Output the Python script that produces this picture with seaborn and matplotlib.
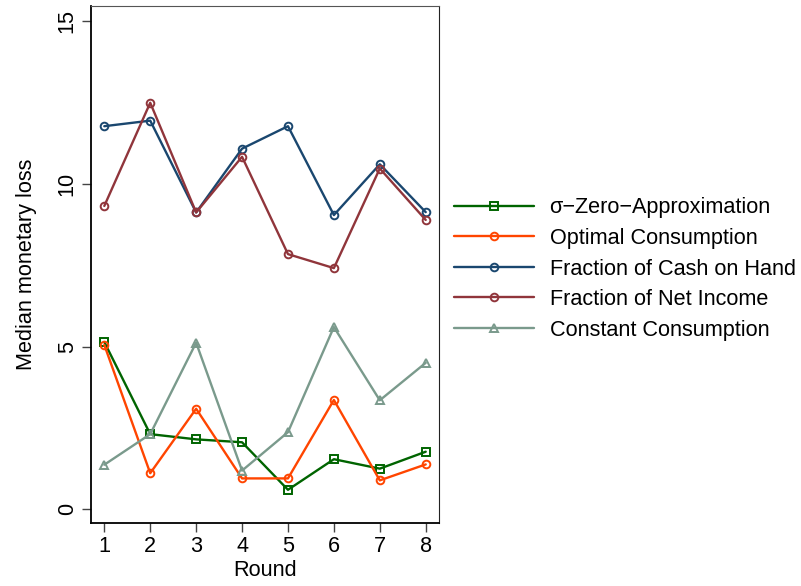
import pandas as pd
import matplotlib
matplotlib.use("Agg")
import matplotlib.pyplot as plt
import seaborn as sns

rounds = [1, 2, 3, 4, 5, 6, 7, 8]
sigma_zero = [5.14, 2.31, 2.15, 2.06, 0.60, 1.54, 1.25, 1.77]
optimal = [5.05, 1.11, 3.09, 0.95, 0.95, 3.36, 0.89, 1.38]
cash_on_hand = [11.77, 11.94, 9.12, 11.08, 11.77, 9.04, 10.60, 9.13]
net_income = [9.32, 12.49, 9.12, 10.83, 7.84, 7.41, 10.47, 8.89]
constant = [1.37, 2.31, 5.12, 1.19, 2.37, 5.60, 3.35, 4.50]

labels = ["\u03c3\u2212Zero\u2212Approximation", "Optimal Consumption",
          "Fraction of Cash on Hand", "Fraction of Net Income",
          "Constant Consumption"]
series = [sigma_zero, optimal, cash_on_hand, net_income, constant]
colors = ["#006400", "#ff4500", "#1a476f", "#90353b", "#7a9a8c"]
markers = ["s", "o", "o", "o", "^"]

sns.set_style("white")
plt.rcParams["font.family"] = ["Liberation Sans", "DejaVu Sans"]
plt.rcParams["text.color"] = "black"
plt.rcParams["axes.labelcolor"] = "black"
plt.rcParams["xtick.color"] = "black"
plt.rcParams["ytick.color"] = "black"

fs = 15.6

fig = plt.figure(figsize=(8.01, 5.86), dpi=100)
ax = fig.add_axes([0.1136, 0.1075, 0.4345, 0.8827])

for lab, vals, col, mk in zip(labels, series, colors, markers):
    df = pd.DataFrame({"Round": rounds, "loss": vals})
    sns.lineplot(data=df, x="Round", y="loss", ax=ax, color=col, marker=mk,
                 markersize=5.5, markerfacecolor="none", markeredgecolor=col,
                 markeredgewidth=1.4, linewidth=1.7, label=lab)

ax.set_xlim(0.71, 8.29)
ax.set_ylim(-0.42, 15.47)
ax.set_xticks(rounds)
ax.set_yticks([0, 5, 10, 15])
ax.tick_params(axis="both", labelsize=fs, length=6.5, width=1,
               direction="out", bottom=True, left=True, pad=3)
ax.tick_params(axis="both", color="#444444")
plt.setp(ax.get_yticklabels(), rotation=90, va="center")
ax.set_xlabel("Round", fontsize=fs, labelpad=2)
ax.set_ylabel("Median monetary loss", fontsize=fs, labelpad=14)

for side in ["left", "bottom"]:
    ax.spines[side].set_color("black")
    ax.spines[side].set_linewidth(1.3)
ax.spines["top"].set_color("#555555")
ax.spines["right"].set_color("#222222")

ax.legend(loc="upper left", bbox_to_anchor=(0.567, 0.663),
          bbox_transform=fig.transFigure, frameon=False, fontsize=fs,
          handlelength=3.7, handletextpad=0.7, labelspacing=0.44,
          borderpad=0, borderaxespad=0)

fig.savefig("out.png", dpi=100)
